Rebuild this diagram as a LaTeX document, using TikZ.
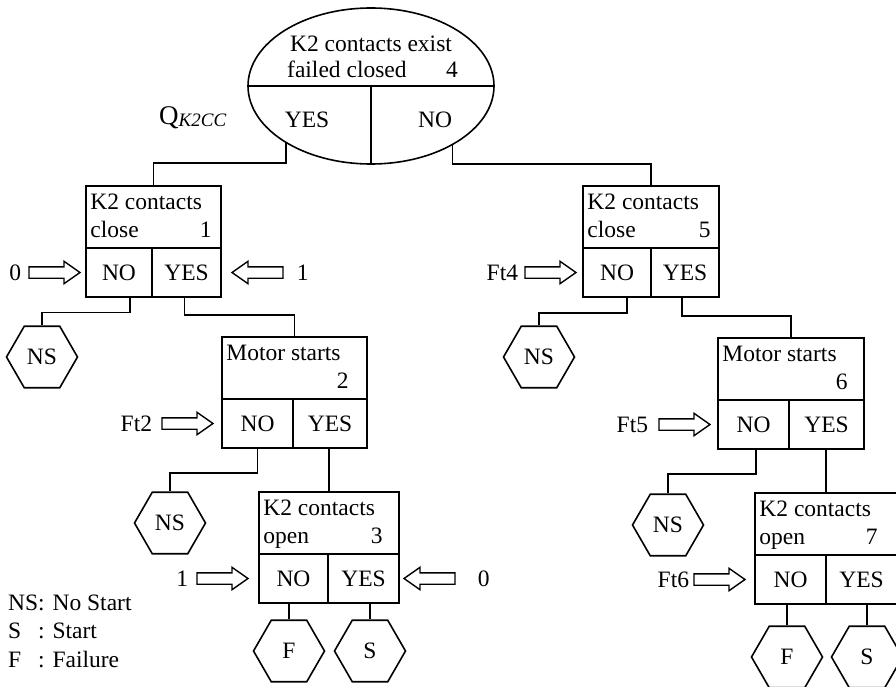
\documentclass[tikz,border=0pt]{standalone}
\usepackage{fontspec}
\setmainfont{Liberation Serif}
\usetikzlibrary{shapes.geometric,shapes.arrows}

\tikzset{
  lbl/.style={inner sep=0pt, font=\fontsize{23.5}{27}\selectfont},
  line/.style={line width=1.6pt},
  qcell/.style={draw, line width=1.6pt, inner sep=0pt, minimum height=62pt},
  acell/.style={draw, line width=1.6pt, inner sep=0pt, minimum height=49pt,
    font=\fontsize{23.5}{27}\selectfont},
  hexnode/.style={draw, line width=1.6pt, regular polygon, regular polygon sides=6,
    minimum size=71pt, inner sep=0pt, font=\fontsize{23.5}{27}\selectfont},
  inarrow/.style={single arrow, draw, line width=1.4pt, inner sep=0pt, inner ysep=5pt,
    minimum height=51pt, single arrow head extend=5.5pt, single arrow tip angle=70},
}

% decision box: #1 id, #2 left, #3 top, #4 right, #5 split x,
% #6 first line, #7 second line, #8 number, #9 right inset of the number
\newcommand\decisionbox[9]{%
  \node[qcell, minimum width={(#4-#2)*1pt}] (q#1) at ({(#2+#4)/2},{#3+31}) {};
  \node[acell, minimum width={(#5-#2)*1pt}] (n#1) at ({(#2+#5)/2},{#3+86.5}) {NO};
  \node[acell, minimum width={(#4-#5)*1pt}] (y#1) at ({(#5+#4)/2},{#3+86.5}) {YES};
  \node[lbl, anchor=base west] (q#1a) at ([xshift=5pt,yshift=-24pt]q#1.north west) {#6};
  \node[lbl, anchor=base west] (q#1b) at ([xshift=5pt,yshift=-52pt]q#1.north west) {#7};
  \node[lbl, anchor=base east] (q#1c) at ([xshift=-#9pt,yshift=-52pt]q#1.north east) {#8};
}

\begin{document}
\begin{tikzpicture}[x=1pt,y=-1pt]
  \fill[white] (0,0) rectangle (896,687);
  \useasboundingbox (0,0) rectangle (896,687);

  % root question
  \node[draw, ellipse, line width=1.6pt, minimum width=246pt, minimum height=156pt,
        inner sep=0pt] (root) at (371,86) {};
  \draw[line] (root.west) -- (root.east);
  \draw[line] (root.center) -- (root.south);
  \node[lbl, anchor=base] (rt1) at (371,52) {K2 contacts exist};
  \node[lbl, anchor=base west] (rt2) at (287,78) {failed closed};
  \node[lbl, anchor=base east] (rt3) at (458,78) {4};
  \node[lbl] (ryes) at (307,120) {YES};
  \node[lbl] (rno) at (435,120) {NO};
  \node[inner sep=0pt, anchor=base west, font=\fontsize{27}{30}\selectfont] (qk) at (159,125)
       {Q\raisebox{-2pt}{\fontsize{19}{20}\selectfont\itshape K2CC}};

  % decision boxes
  \decisionbox{1}{86}{186}{221}{152}{K2 contacts}{close}{1}{10}
  \decisionbox{5}{583}{186}{719}{651}{K2 contacts}{close}{5}{9}
  \decisionbox{2}{222}{337}{367}{293}{Motor starts}{}{2}{19}
  \decisionbox{6}{718}{338}{864}{789}{Motor starts}{}{6}{17}
  \decisionbox{3}{259}{492}{399}{328}{K2 contacts}{open}{3}{17}
  \decisionbox{7}{755}{493}{897}{826}{K2 contacts}{open}{7}{20}

  % end states
  \node[hexnode] (hns1) at (42,357) {NS};
  \node[hexnode] (hns2) at (170,523) {NS};
  \node[hexnode] (hf1) at (289,651) {F};
  \node[hexnode] (hs1) at (370,651) {S};
  \node[hexnode] (hns3) at (539,357) {NS};
  \node[hexnode] (hns4) at (668,525) {NS};
  \node[hexnode] (hf2) at (787,657) {F};
  \node[hexnode] (hs2) at (867,657) {S};

  % branches
  \draw[line] (root.214.75) -- ++(0,19.5) -| (q1.north);
  \draw[line] (root.324.7) -- ++(0,19) -| (q5.north);
  \draw[line] ([xshift=11pt]n1.south) -- ++(0,14.5) -| (hns1.north);
  \draw[line] ([xshift=-2pt]y1.south) -- ++(0,17) -| (q2.north);
  \draw[line] ([xshift=10pt]n5.south) -- ++(0,15) -| (hns3.north);
  \draw[line] ([xshift=-3pt]y5.south) -- ++(0,18) -| (q6.north);
  \draw[line] (n2.south) -- ++(0,24) -| (hns2.north);
  \draw[line] (y2.south -| q3.north) -- (q3.north);
  \draw[line] ([xshift=2.5pt]n6.south) -- ++(0,24) -| (hns4.north);
  \draw[line] (y6.south -| q7.north) -- (q7.north);
  \draw[line] (n3.south -| hf1.north) -- (hf1.north);
  \draw[line] (y3.south -| hs1.north) -- (hs1.north);
  \draw[line] (n7.south -| hf2.north) -- (hf2.north);
  \draw[line] (y7.south -| hs2.north) -- (hs2.north);

  % input arrows
  \node[inarrow, anchor=tip] (ar1) at ([xshift=-4pt]n1.west) {};
  \node[lbl, anchor=east] (in1) at ([xshift=-7pt]ar1.tail) {0};
  \node[inarrow, shape border rotate=180, anchor=tip] (ar2) at ([xshift=9pt]y1.east) {};
  \node[lbl, anchor=west] (in2) at ([xshift=13pt]ar2.tail) {1};
  \node[inarrow, anchor=tip] (ar3) at ([xshift=-5pt]n5.west) {};
  \node[lbl, anchor=east] (in3) at ([xshift=-6pt]ar3.tail) {Ft4};
  \node[inarrow, anchor=tip] (ar4) at ([xshift=-7pt]n2.west) {};
  \node[lbl, anchor=east] (in4) at ([xshift=-9pt]ar4.tail) {Ft2};
  \node[inarrow, anchor=tip] (ar5) at ([xshift=-6pt]n6.west) {};
  \node[lbl, anchor=east] (in5) at ([xshift=-10pt]ar5.tail) {Ft5};
  \node[inarrow, anchor=tip] (ar6) at ([xshift=-9pt]n3.west) {};
  \node[lbl, anchor=east] (in6) at ([xshift=-8pt]ar6.tail) {1};
  \node[inarrow, shape border rotate=180, anchor=tip] (ar7) at ([xshift=3pt]y3.east) {};
  \node[lbl, anchor=west] (in7) at ([xshift=22pt]ar7.tail) {0};
  \node[inarrow, anchor=tip] (ar8) at ([xshift=-8pt]n7.west) {};
  \node[lbl, anchor=east] (in8) at ([xshift=-4pt]ar8.tail) {Ft6};

  % legend
  \node[inner sep=0pt, anchor=north west, font=\fontsize{23.5}{28.5}\selectfont] (legend) at (8,590)
    {\begin{tabular}{@{}l@{}l@{}}NS&: No Start\\ S&: Start\\ F&: Failure\end{tabular}};
\end{tikzpicture}
\end{document}
